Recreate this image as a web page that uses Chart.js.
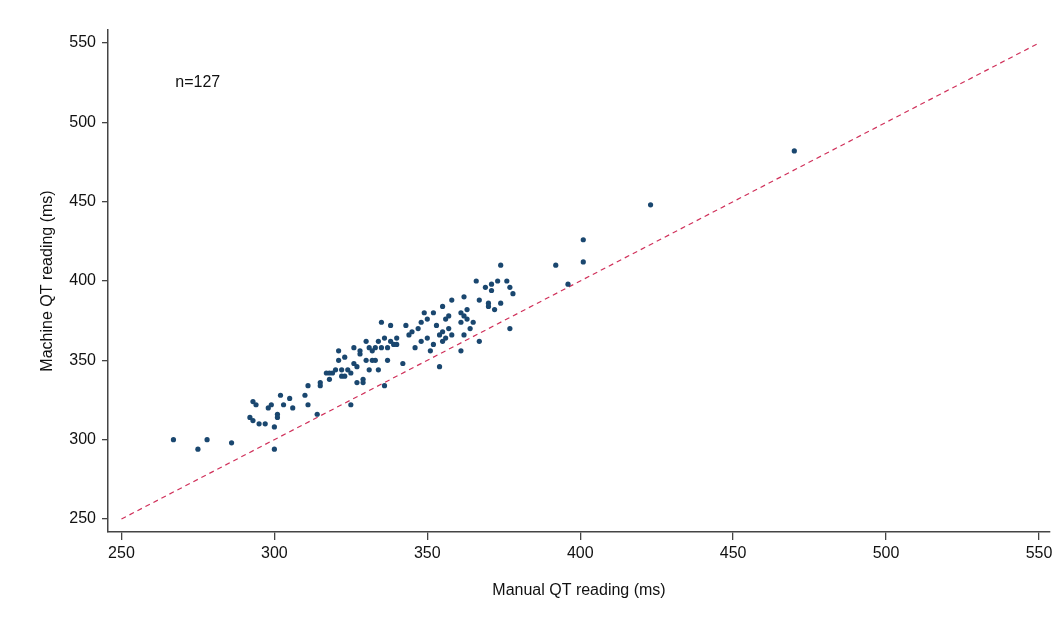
<!DOCTYPE html>
<html>
<head>
<meta charset="utf-8">
<script src="https://cdn.jsdelivr.net/npm/chart.js@4"></script>
<style>
  html, body { margin: 0; padding: 0; background: #fff; }
  #wrap { width: 1060px; height: 620px; }
</style>
</head>
<body>
<div id="wrap"><canvas id="myChart" width="1060" height="620"></canvas></div>
<script>
'use strict'

// manual QT (ms) vs machine QT (ms)
var manualQT = [267, 275, 278, 286, 300,
    292, 293, 293, 294, 295, 297, 298, 299, 300, 301, 301, 302, 303, 305, 306,
    310, 311, 311, 314, 315, 315, 317, 318, 319, 320, 321, 321, 322, 322, 323,
    323, 324, 325, 325, 326, 326, 327, 328, 328, 329, 329, 330, 330, 331, 331,
    332, 332, 333, 333, 334, 334, 335, 335, 336, 336, 337, 337, 338, 338, 339,
    340, 342, 343, 344, 345, 346, 347, 348, 348, 349, 350, 350, 351, 352, 352,
    353, 354, 354, 355, 355, 355, 356, 356, 357, 358, 358, 361, 361, 361, 362,
    362, 362, 363, 363, 364, 365, 366, 367, 367, 369, 370, 370, 371, 371, 372,
    373, 374, 374, 376, 377, 377, 378, 392, 396, 401, 401, 423, 470,
    340, 357, 318, 327];
var machineQT = [300, 294, 300, 298, 294,
    314, 312, 324, 322, 310, 310, 320, 322, 308, 316, 314, 328, 322, 326, 320,
    328, 322, 334, 316, 336, 334, 342, 338, 342, 344, 350, 356, 340, 344, 352,
    340, 344, 322, 342, 348, 358, 336, 356, 354, 338, 336, 350, 362, 344, 358,
    350, 356, 358, 350, 344, 362, 374, 358, 334, 364, 350, 358, 372, 362, 360,
    360, 348, 372, 366, 368, 358, 370, 374, 362, 380, 376, 364, 356, 360, 380,
    372, 346, 366, 384, 368, 362, 376, 364, 370, 366, 388, 356, 374, 380, 390,
    378, 366, 382, 376, 370, 374, 400, 362, 388, 396, 384, 386, 398, 394, 382,
    400, 410, 386, 400, 370, 396, 392, 410, 398, 426, 412, 448, 482,
    364, 378, 342, 346];

var lineX = [250, 550];   // line of identity
var tickValues = [250, 300, 350, 400, 450, 500, 550];

var points = manualQT.map(function (v, i) {
    return { x: v, y: machineQT[i] };
});
var identity = lineX.map(function (v) {
    return { x: v, y: v };
});

function setTicks(scale) {
    scale.ticks = tickValues.map(function (v) { return { value: v }; });
}

// "n=127" note inside the plot
var notePlugin = {
    id: 'note',
    afterDatasetsDraw: function (chart) {
        var ctx = chart.ctx;
        var xs = chart.scales.x, ys = chart.scales.y;
        ctx.save();
        ctx.font = '16px "Liberation Sans", Arial, sans-serif';
        ctx.fillStyle = '#111';
        ctx.textAlign = 'left';
        ctx.textBaseline = 'middle';
        ctx.fillText('n=' + manualQT.length, xs.getPixelForValue(267.6), ys.getPixelForValue(525));
        ctx.restore();
    }
};

var axisColor = '#444';
var fontFam = '"Liberation Sans", Arial, sans-serif';

var ctx = document.getElementById('myChart').getContext('2d');

var chart = new Chart(ctx, {
    type: 'scatter',
    data: {
        datasets: [{
            label: 'QT',
            data: points,
            backgroundColor: '#1a476f',
            borderColor: '#1a476f',
            pointRadius: 2.6,
            pointBorderWidth: 0,
            order: 1
        },
        {
            type: 'line',
            label: 'identity',
            data: identity,
            borderColor: '#d0305a',
            borderWidth: 1.2,
            borderDash: [5, 4],
            pointRadius: 0,
            fill: false,
            order: 2
        }]
    },
    options: {
        responsive: false,
        animation: false,
        layout: {
            padding: { left: 0, top: 30, right: 10, bottom: 0 }
        },
        plugins: {
            legend: { display: false },
            tooltip: { enabled: false }
        },
        scales: {
            x: {
                type: 'linear',
                min: 245.6,
                max: 553.6,
                afterBuildTicks: setTicks,
                afterFit: function (scale) { scale.height = 88; },
                grid: {
                    display: true,
                    drawOnChartArea: false,
                    drawTicks: true,
                    tickLength: 8,
                    color: axisColor,
                    lineWidth: 1.3
                },
                border: { color: axisColor, width: 1.5 },
                ticks: {
                    color: '#111',
                    padding: 4,
                    maxRotation: 0,
                    font: { size: 16, family: fontFam }
                },
                title: {
                    display: true,
                    text: 'Manual QT reading (ms)',
                    color: '#111',
                    padding: { top: 0, bottom: 20 },
                    font: { size: 16, family: fontFam }
                }
            },
            y: {
                type: 'linear',
                min: 241.8,
                max: 558.2,
                afterBuildTicks: setTicks,
                afterFit: function (scale) { scale.width = 108; },
                grid: {
                    display: true,
                    drawOnChartArea: false,
                    drawTicks: true,
                    tickLength: 6,
                    color: axisColor,
                    lineWidth: 1.3
                },
                border: { color: axisColor, width: 1.5 },
                ticks: {
                    color: '#111',
                    padding: 6,
                    font: { size: 16, family: fontFam }
                },
                title: {
                    display: true,
                    text: 'Machine QT reading (ms)',
                    color: '#111',
                    padding: { top: 38, bottom: 0 },
                    font: { size: 16, family: fontFam }
                }
            }
        }
    },
    plugins: [notePlugin]
});
</script>
</body>
</html>
